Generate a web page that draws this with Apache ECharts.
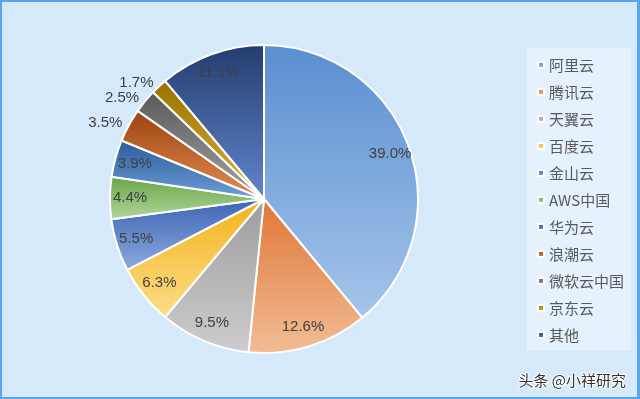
<!DOCTYPE html>
<html>
<head>
<meta charset="utf-8">
<script src="https://cdn.jsdelivr.net/npm/echarts@6/dist/echarts.min.js"></script>
<style>
html, body { margin: 0; padding: 0; }
#wrap { width: 640px; height: 399px; box-sizing: border-box; border: 2px solid #5aa5ee; border-right-width: 3px; background: #d5e9fb; }
#main { width: 635px; height: 395px; }
</style>
</head>
<body>
<div id="wrap"><div id="main"></div></div>
<script>
// 各云厂商份额(%)
var names = ['阿里云', '腾讯云', '天翼云', '百度云', '金山云', 'AWS中国', '华为云', '浪潮云', '微软云中国', '京东云', '其他'];
var values = [39.0, 12.6, 9.5, 6.3, 5.5, 4.4, 3.9, 3.5, 2.5, 1.7, 11.1];
// 小扇区标签放外面
var outsideNames = ['浪潮云', '微软云中国', '京东云'];

// 渐变色 [上, 下]
var colors = [
	['#5a8ecf', '#a5c5ea'],
	['#df7636', '#f2bd95'],
	['#9c9c9c', '#cdcdcd'],
	['#f2b31c', '#fddd88'],
	['#3c64b5', '#8fabdd'],
	['#67a647', '#b2d59c'],
	['#2b5c9b', '#6f9fd8'],
	['#9b440f', '#e68c52'],
	['#5a5a5a', '#a3a3a3'],
	['#987100', '#e2b334'],
	['#243d6e', '#6186cd']
];

var chart = echarts.init(document.getElementById('main'));

var pieData = [];
var labelData = [];
for (var i = 0; i < names.length; i++) {
	var out = outsideNames.indexOf(names[i]) >= 0;
	pieData.push({
		name: names[i],
		value: values[i],
		itemStyle: {
			color: new echarts.graphic.LinearGradient(0, 0, 0, 1, [
				{offset: 0, color: colors[i][0]},
				{offset: 1, color: colors[i][1]}
			])
		},
		label: {show: out}
	});
	labelData.push({
		name: names[i],
		value: values[i],
		label: {show: !out}
	});
}

var font = 'Arial, "Liberation Sans", sans-serif';

var option = {
	legend: {
		orient: 'vertical',
		left: 525,
		top: 46,
		data: names,
		icon: 'rect',
		itemWidth: 6,
		itemHeight: 6,
		itemGap: 9,
		padding: [8, 7, 6, 10],
		backgroundColor: '#e5f1fd',
		textStyle: {
			color: '#595959',
			fontSize: 15,
			lineHeight: 18,
			fontFamily: '"Noto Sans CJK SC", sans-serif'
		},
		selectedMode: false
	},
	graphic: [{
		type: 'text',
		right: 10,
		bottom: 8,
		style: {
			text: '头条 @小祥研究',
			fill: '#333',
			stroke: '#fff',
			lineWidth: 2,
			fontSize: 15,
			fontFamily: '"Noto Sans CJK SC", sans-serif'
		}
	}],
	series: [
		{
			name: '份额',
			type: 'pie',
			center: [262, 197],
			radius: [0, 154],
			startAngle: 90,
			avoidLabelOverlap: false,
			silent: true,
			itemStyle: {borderColor: '#fff', borderWidth: 2},
			label: {
				position: 'outside',
				formatter: function (p) { return p.value.toFixed(1) + '%'; },
				color: '#404040',
				fontSize: 15,
				fontFamily: font,
				distanceToLabelLine: 2
			},
			labelLine: {show: false, length: 5, length2: 0},
			data: pieData
		},
		{
			name: '标签',
			type: 'pie',
			center: [262, 197],
			radius: [0, 262],
			startAngle: 90,
			silent: true,
			avoidLabelOverlap: false,
			itemStyle: {color: 'rgba(0,0,0,0)'},
			label: {
				position: 'inside',
				formatter: function (p) { return p.value.toFixed(1) + '%'; },
				color: '#404040',
				fontSize: 15,
				fontFamily: font
			},
			labelLine: {show: false},
			data: labelData
		}
	]
};
chart.setOption(option);
</script>
</body>
</html>
